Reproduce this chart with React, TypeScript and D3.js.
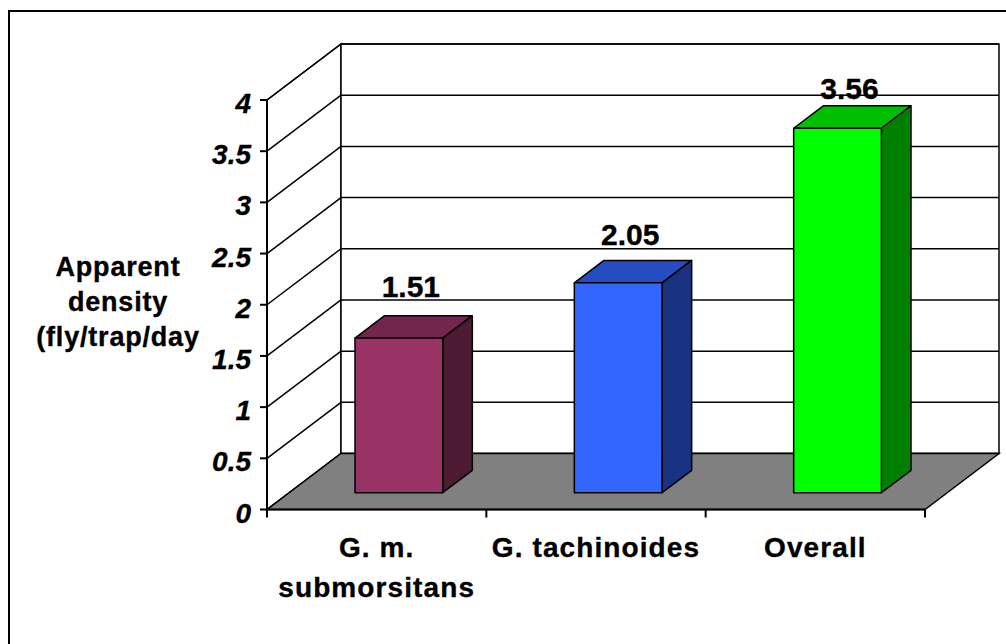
import React from "react";
import * as d3 from "d3";

const categoryLines: string[][] = [["G. m.", "submorsitans"], ["G. tachinoides"], ["Overall"]];
const categories = ["G. m. submorsitans", "G. tachinoides", "Overall"];
const values = [1.51, 2.05, 3.56];
const valueLabels = ["1.51", "2.05", "3.56"];
const barColors = ["#993366", "#3366FF", "#00FF00"];
const yTicks = [0, 0.5, 1, 1.5, 2, 2.5, 3, 3.5, 4];
const yTitleLines = ["Apparent", "density", "(fly/trap/day"];

const W = 1006;
const H = 644;
const FONT = "'Liberation Sans', Arial, Helvetica, sans-serif";

// 3D geometry
const x0 = 267;
const x1 = 925;
const DX = 74; // depth offset x
const DY = -56; // depth offset y
const barDepthStart = 0.3;
const barDepthEnd = 0.7;

function shade(c: string, k: number) {
  const r = d3.rgb(c);
  return d3.rgb(r.r * k, r.g * k, r.b * k).formatHex();
}

export default function App() {
  const y = d3.scaleLinear().domain([0, 4]).range([509.5, 100]);
  const x = d3.scaleBand<string>().domain(categories).range([x0, x1]).paddingInner(0).paddingOuter(0);
  const labelY = d3.scaleLinear().domain([0, 4]).range([443, 57]);
  const bw = x.bandwidth();
  const barW = bw * 0.4;

  const pts = (arr: [number, number][]) => arr.map((p) => p.join(",")).join(" ");

  const fx = DX * barDepthStart;
  const fy = DY * barDepthStart;
  const ddx = DX * (barDepthEnd - barDepthStart);
  const ddy = DY * (barDepthEnd - barDepthStart);

  const textStroke = { stroke: "#000", strokeWidth: 0.35 };

  return (
    <svg
      width={W}
      height={H}
      style={{ position: "absolute", left: 0, top: 0, background: "#fff" }}
      fontFamily={FONT}
    >
      <rect x={0} y={0} width={W} height={H} fill="#fff" />
      {/* outer border */}
      <rect x={9} y={11} width={1100} height={700} fill="none" stroke="#000" strokeWidth={2} />

      {/* left side wall */}
      <polygon
        points={pts([
          [x0, y(0)],
          [x0, y(4)],
          [x0 + DX, y(4) + DY],
          [x0 + DX, y(0) + DY],
        ])}
        fill="#fff"
        stroke="#000"
        strokeWidth={1.5}
      />
      {/* back wall */}
      <rect
        x={x0 + DX}
        y={y(4) + DY}
        width={x1 - x0}
        height={y(0) - y(4)}
        fill="#fff"
        stroke="#000"
        strokeWidth={1.5}
      />
      {/* gridlines */}
      {yTicks.map((t) => (
        <g key={"g" + t}>
          <line x1={x0} y1={y(t)} x2={x0 + DX} y2={y(t) + DY} stroke="#000" strokeWidth={1.5} />
          <line x1={x0 + DX} y1={y(t) + DY} x2={x1 + DX} y2={y(t) + DY} stroke="#000" strokeWidth={1.5} />
        </g>
      ))}
      {/* floor */}
      <polygon
        points={pts([
          [x0, y(0)],
          [x0 + DX, y(0) + DY],
          [x1 + DX, y(0) + DY],
          [x1, y(0)],
        ])}
        fill="#808080"
        stroke="#000"
        strokeWidth={1.5}
      />

      {/* bars */}
      {categories.map((c, i) => {
        const left = (x(c) as number) + (bw - barW) / 2 + fx;
        const right = left + barW;
        const bottom = y(0) + fy;
        const top = y(values[i]) + fy;
        const col = barColors[i];
        return (
          <g key={c} stroke="#000" strokeWidth={1.5} strokeLinejoin="round">
            <polygon
              points={pts([
                [left, top],
                [left + ddx, top + ddy],
                [right + ddx, top + ddy],
                [right, top],
              ])}
              fill={shade(col, 0.75)}
            />
            <polygon
              points={pts([
                [right, top],
                [right + ddx, top + ddy],
                [right + ddx, bottom + ddy],
                [right, bottom],
              ])}
              fill={shade(col, 0.5)}
            />
            <rect x={left} y={top} width={barW} height={bottom - top} fill={col} />
          </g>
        );
      })}

      {/* data labels */}
      {categories.map((c, i) => {
        const cx = (x(c) as number) + bw / 2 + fx + 12;
        return (
          <text
            key={"l" + c}
            x={cx}
            y={labelY(values[i])}
            textAnchor="middle"
            fontSize={30}
            fontWeight="bold"
            fill="#000"
            {...textStroke}
          >
            {valueLabels[i]}
          </text>
        );
      })}

      {/* axes */}
      <line x1={x0} y1={y(0)} x2={x0} y2={y(4)} stroke="#000" strokeWidth={2} />
      <line x1={x0} y1={y(0)} x2={x1} y2={y(0)} stroke="#000" strokeWidth={2} />
      {yTicks.map((t) => (
        <g key={"t" + t}>
          <line x1={x0 - 7} y1={y(t)} x2={x0} y2={y(t)} stroke="#000" strokeWidth={2} />
          <text
            x={251}
            y={y(t) + 13}
            textAnchor="end"
            fontSize={28}
            fontWeight="bold"
            fontStyle="italic"
            fill="#000"
            {...textStroke}
          >
            {String(t)}
          </text>
        </g>
      ))}
      {[...categories.map((c) => x(c) as number), x1].map((tx, i) => (
        <line key={"ct" + i} x1={tx} y1={y(0)} x2={tx} y2={y(0) + 8} stroke="#000" strokeWidth={2} />
      ))}

      {/* category labels */}
      {categories.map((c, i) => (
        <text
          key={"c" + c}
          x={(x(c) as number) + bw / 2}
          y={557}
          textAnchor="middle"
          fontSize={28}
          fontWeight="bold"
          letterSpacing={1.1}
          fill="#000"
          {...textStroke}
        >
          {categoryLines[i].map((ln, j) => (
            <tspan key={j} x={(x(c) as number) + bw / 2} dy={j === 0 ? 0 : 40}>
              {ln}
            </tspan>
          ))}
        </text>
      ))}

      {/* y axis title */}
      <text
        x={118}
        y={276}
        textAnchor="middle"
        fontSize={27}
        fontWeight="bold"
        letterSpacing={0.8}
        fill="#000"
        {...textStroke}
      >
        {yTitleLines.map((ln, j) => (
          <tspan key={j} x={118} dy={j === 0 ? 0 : 35}>
            {ln}
          </tspan>
        ))}
      </text>
    </svg>
  );
}
